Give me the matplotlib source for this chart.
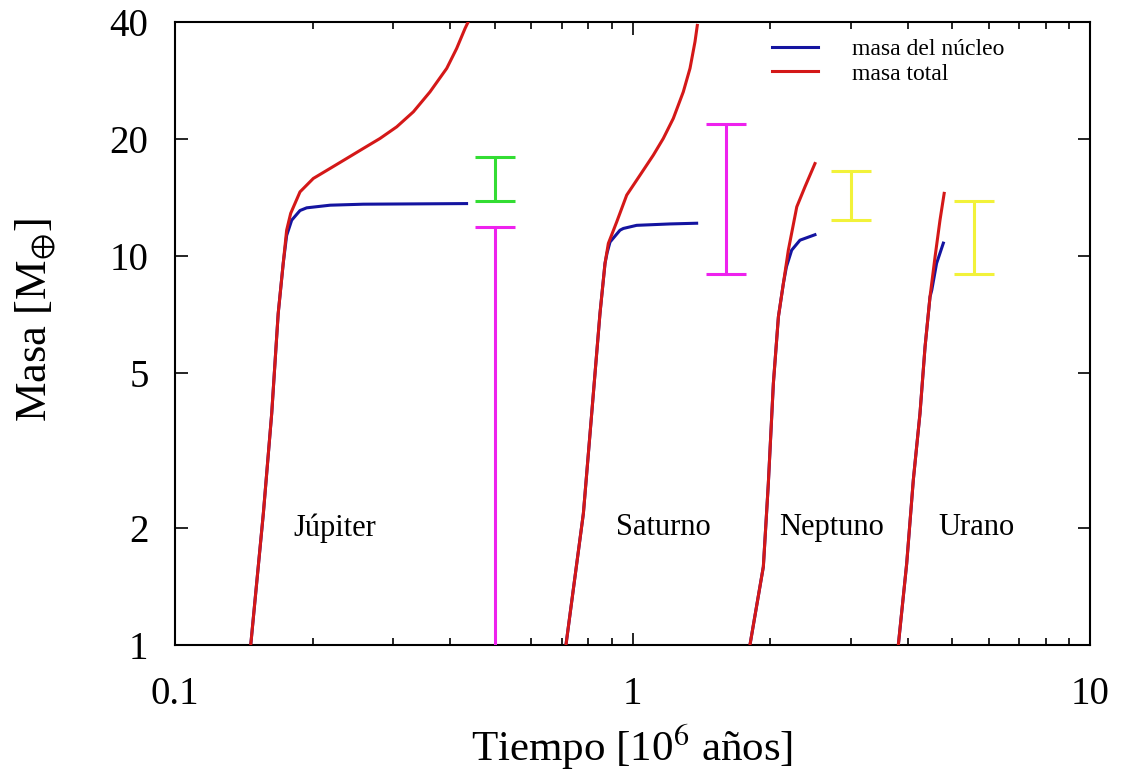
import matplotlib
matplotlib.use("Agg")
import matplotlib.pyplot as plt

# ---- data ----
jup_tot_t = [0.1464, 0.156, 0.1627, 0.1681, 0.1724, 0.1754, 0.179, 0.1876, 0.2006, 0.2183,
             0.2373, 0.258, 0.2806, 0.3052, 0.3319, 0.3609, 0.3926, 0.4127, 0.4305, 0.4377]
jup_tot_m = [1.0, 2.18, 3.94, 7.12, 9.58, 11.66, 12.88, 14.63, 15.84, 16.81,
             17.83, 18.92, 20.07, 21.5, 23.5, 26.45, 30.4, 34.2, 38.5, 40.1]
jup_core_t = [0.1464, 0.156, 0.1627, 0.1681, 0.1724, 0.1754, 0.1799, 0.1876, 0.194, 0.2183, 0.258, 0.4338]
jup_core_m = [1.0, 2.18, 3.94, 7.12, 9.58, 11.3, 12.37, 13.1, 13.31, 13.52, 13.6, 13.65]

sat_tot_t = [0.7154, 0.781, 0.8144, 0.849, 0.8708, 0.8855, 0.9237, 0.9712, 1.0385, 1.1103,
             1.1676, 1.228, 1.2913, 1.3357, 1.3697, 1.3856]
sat_tot_m = [1.0, 2.18, 3.94, 7.12, 9.58, 10.78, 12.25, 14.35, 16.15, 18.18,
             20.07, 22.6, 26.45, 30.4, 35.6, 39.2]
sat_core_t = [0.7154, 0.781, 0.8144, 0.849, 0.8708, 0.88, 0.893, 0.939, 0.955, 1.021, 1.208, 1.381]
sat_core_m = [1.0, 2.18, 3.94, 7.12, 9.58, 10.2, 10.87, 11.66, 11.78, 12.0, 12.1, 12.15]

nep_tot_t = [1.806, 1.932, 1.981, 2.032, 2.084, 2.137, 2.191, 2.286, 2.382, 2.505]
nep_tot_m = [1.0, 1.59, 2.60, 4.71, 6.98, 8.51, 10.36, 13.39, 15.07, 17.3]
nep_core_t = [1.806, 1.932, 1.981, 2.032, 2.084, 2.137, 2.17, 2.228, 2.323, 2.505]
nep_core_m = [1.0, 1.59, 2.60, 4.71, 6.98, 8.51, 9.39, 10.36, 10.99, 11.35]

ura_tot_t = [3.811, 3.975, 4.11, 4.25, 4.36, 4.47, 4.585, 4.70, 4.80]
ura_tot_m = [1.0, 1.62, 2.66, 3.94, 5.85, 7.86, 9.96, 12.37, 14.5]
ura_core_t = [3.811, 3.975, 4.11, 4.25, 4.36, 4.47, 4.51, 4.62, 4.78]
ura_core_m = [1.0, 1.62, 2.66, 3.94, 5.85, 7.86, 8.18, 9.58, 10.8]

# observational core-mass ranges: (time, low, high, colour)
bar_t = [0.5, 0.5, 1.6, 3.0, 5.58]
bar_lo = [13.9, 0.5, 9.0, 12.4, 8.97]
bar_hi = [18.0, 11.9, 21.9, 16.6, 13.9]
bar_col = ["#33dd33", "#ee22ee", "#ee22ee", "#f2f23a", "#f2f23a"]

planet_names = ["Júpiter", "Saturno", "Neptuno", "Urano"]
planet_label_t = [0.224, 1.166, 2.73, 5.66]
planet_label_m = [2.0, 2.0, 2.0, 2.0]

yticks = [1, 2, 5, 10, 20, 40]
xticks = [0.1, 1, 10]
xticklabels = ["0.1", "1", "10"]

# ---- plot ----
plt.rcParams['font.family'] = ['Liberation Serif', 'DejaVu Serif']
plt.rcParams['mathtext.fontset'] = 'stix'

fig = plt.figure(figsize=(11.24, 7.75), dpi=100)
ax = fig.add_axes([175/1124, 130/775, 915/1124, 623/775])

blue = "#1414a0"
red = "#d41818"
lw = 2.2

for tt, mm, tc, mc in [(jup_tot_t, jup_tot_m, jup_core_t, jup_core_m),
                       (sat_tot_t, sat_tot_m, sat_core_t, sat_core_m),
                       (nep_tot_t, nep_tot_m, nep_core_t, nep_core_m),
                       (ura_tot_t, ura_tot_m, ura_core_t, ura_core_m)]:
    ax.plot(tc, mc, color=blue, lw=lw, zorder=2, solid_joinstyle='round')
    ax.plot(tt, mm, color=red, lw=lw, zorder=3, solid_joinstyle='round')

for t, lo, hi, c in zip(bar_t, bar_lo, bar_hi, bar_col):
    mid = (lo * hi) ** 0.5
    ax.errorbar([t], [mid], yerr=[[mid - lo], [hi - mid]], fmt='none',
                ecolor=c, elinewidth=2.2, capsize=14.4, capthick=2.2, zorder=4)

for name, t, m in zip(planet_names, planet_label_t, planet_label_m):
    ax.text(t, m, name, ha='center', va='center', fontsize=22)

# legend proxies
ax.plot([], [], color=blue, lw=lw, label="masa del núcleo")
ax.plot([], [], color=red, lw=lw, label="masa total")
ax.legend(loc='upper left', bbox_to_anchor=(0.6525, 0.973), frameon=False,
          fontsize=17, handlelength=1.95, handletextpad=1.45, labelspacing=0.12,
          borderaxespad=0, borderpad=0)

ax.set_xscale('log')
ax.set_yscale('log')
ax.set_xlim(0.1, 10)
ax.set_ylim(1, 40)
ax.set_yticks(yticks)
ax.set_yticklabels([str(v) for v in yticks])
ax.yaxis.set_minor_locator(matplotlib.ticker.NullLocator())
ax.set_xticks(xticks)
ax.set_xticklabels(xticklabels)

ax.tick_params(which='both', direction='in', top=True, right=True, labelsize=28, width=1.2)
ax.tick_params(which='major', length=9)
ax.tick_params(which='minor', length=5)
ax.tick_params(axis='x', pad=22)
ax.tick_params(axis='y', pad=19)
for s in ax.spines.values():
    s.set_linewidth(1.5)

ax.set_xlabel(r"Tiempo [10$^{6}$ años]", fontsize=31)
ax.set_ylabel(r"Masa [M$_{\oplus}$]", fontsize=32)
ax.xaxis.set_label_coords(0.5, (645 - 722) / 623)
ax.yaxis.set_label_coords((58 - 175) / 915, (645 - 320) / 623)

fig.savefig("out.png", dpi=100)
